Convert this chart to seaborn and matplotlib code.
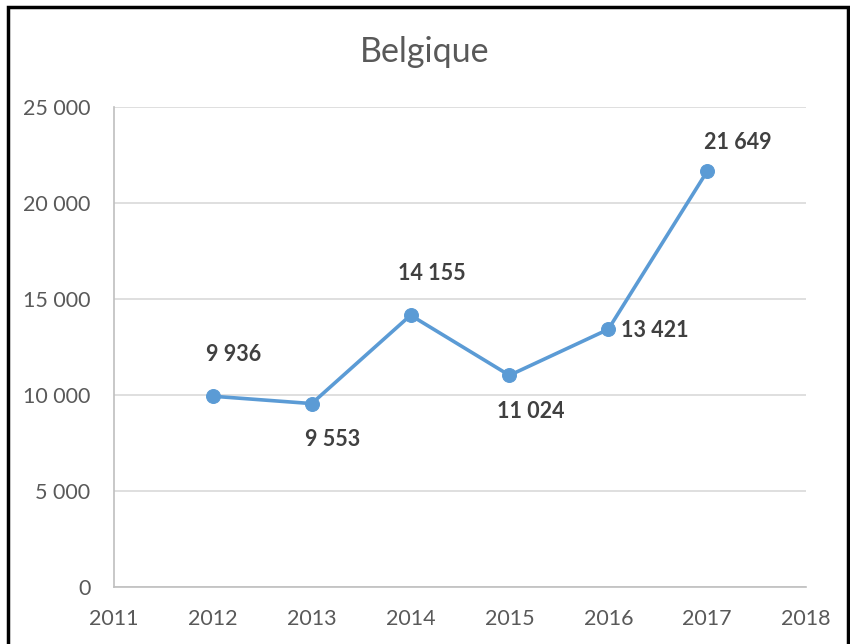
import matplotlib
matplotlib.use("Agg")
import matplotlib.pyplot as plt
import matplotlib.ticker as mticker
from matplotlib.patches import Rectangle
import pandas as pd
import seaborn as sns

years = [2012, 2013, 2014, 2015, 2016, 2017]
values = [9936, 9553, 14155, 11024, 13421, 21649]
# label placement (Excel style): above / below / right / top (near top edge)
label_pos = ["above", "below", "above", "below", "right", "top"]

df = pd.DataFrame({"annee": years, "valeur": values})

sns.set_theme(style="white")
plt.rcParams["font.family"] = ["Lato", "DejaVu Sans"]

fig = plt.figure(figsize=(8.5, 6.44), dpi=100)
ax = fig.add_axes([114 / 850, 1 - 587 / 644, (806 - 114) / 850, (587 - 107) / 644])

blue = "#5B9BD5"
sns.lineplot(data=df, x="annee", y="valeur", ax=ax, color=blue, linewidth=2.6,
             marker="o", markersize=10, markeredgecolor=blue, markerfacecolor=blue)


def fmt(v):
    return f"{v:,}".replace(",", " ")


offsets = {"above": (15, 30), "top": (22, 21), "below": (15, -26), "right": (9, -1)}
for x, y, pos in zip(years, values, label_pos):
    dx, dy = offsets[pos]
    ha = "left" if pos == "right" else "center"
    ax.annotate(fmt(y), (x, y), xytext=(dx, dy), textcoords="offset points",
                ha=ha, va="center", fontsize=15.5, fontweight="bold", color="#404040")

ax.set_xlim(2011, 2018)
ax.set_ylim(0, 25000)
ax.set_xticks(range(2011, 2019))
ax.set_yticks(range(0, 25001, 5000))
ax.yaxis.set_major_formatter(mticker.FuncFormatter(lambda v, p: fmt(int(v))))
ax.grid(axis="y", color="#d9d9d9", linewidth=1.2)
ax.grid(axis="x", visible=False)
ax.set_axisbelow(True)
for s in ["top", "right"]:
    ax.spines[s].set_visible(False)
for s in ["left", "bottom"]:
    ax.spines[s].set_color("#bfbfbf")
    ax.spines[s].set_linewidth(1.2)
ax.tick_params(axis="both", length=0, labelsize=15.5, labelcolor="#595959")
ax.tick_params(axis="y", pad=17)
ax.tick_params(axis="x", pad=16)
ax.set_xlabel("")
ax.set_ylabel("")

fig.text(0.5, 1 - 52 / 644, "Belgique", ha="center", va="center",
         fontsize=24.5, color="#595959")

fig.patches.append(Rectangle((8 / 850, -0.05), 840 / 850, 1.05 - 7 / 644,
                             transform=fig.transFigure, fill=False,
                             edgecolor="black", linewidth=2.5))

fig.savefig("out.png", dpi=100)
